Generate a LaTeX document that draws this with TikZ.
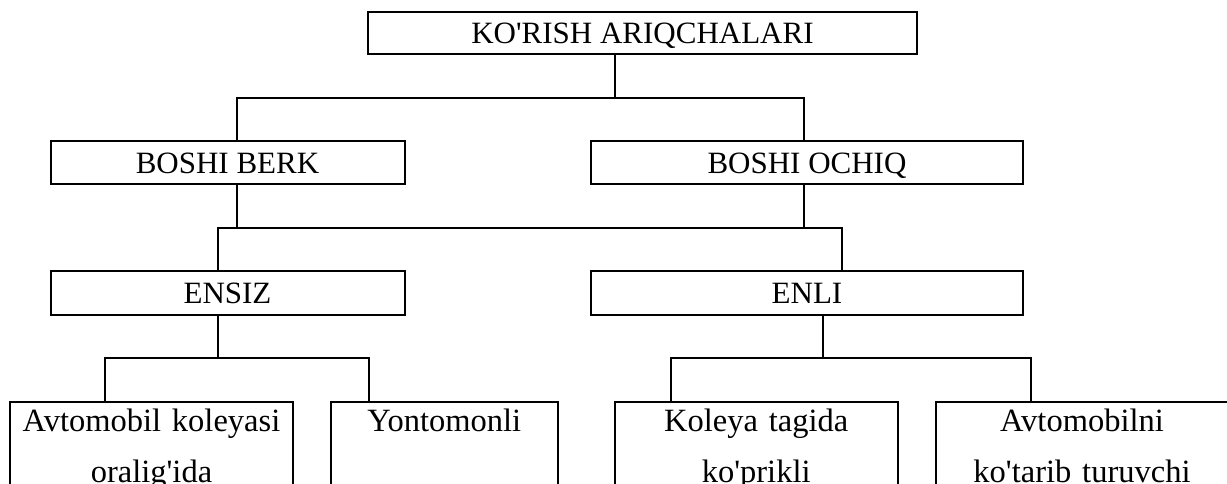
\documentclass[tikz,border=0pt]{standalone}
\usepackage{fontspec}
\setmainfont{Liberation Serif}[Ligatures=TeXOff]
\begin{document}
\begin{tikzpicture}[x=1pt,y=-1pt,
  every node/.style={font=\fontsize{31}{50}\selectfont},
  box/.style={draw,line width=2pt,inner sep=0pt,minimum height=43.5pt,text height=20.7pt,text depth=0pt},
  leaf/.style={draw,line width=2pt,inner sep=0pt,minimum height=130pt,anchor=north},
  leaftext/.style={anchor=base,align=center,inner sep=0pt,font=\fontsize{32.5}{50.5}\selectfont},
  conn/.style={line width=2pt}]
\useasboundingbox (0,0) rectangle (1227,484);
\clip (0,0) rectangle (1227,484);
% nodes
\node[box,minimum width=549pt,minimum height=42pt] (top) at (642.5,33) {KO'RISH ARIQCHALARI};
\node[box,minimum width=354pt] (bb) at (227.5,162.7) {BOSHI BERK};
\node[box,minimum width=432pt] (bo) at (807,162.7) {BOSHI OCHIQ};
\node[box,minimum width=354pt,minimum height=44pt] (en) at (227.5,293) {ENSIZ};
\node[box,minimum width=432pt,minimum height=44pt] (el) at (807,293) {ENLI};
\node[leaf,minimum width=283pt] (b1) at (151.5,401) {};
\node[leaf,minimum width=227.4pt] (b2) at (444.3,401) {};
\node[leaf,minimum width=283pt] (b3) at (756.2,401) {};
\node[leaf,minimum width=310pt] (b4) at (1090.6,401) {};
\node[leaftext,text width=280pt] (b1t) at ([yshift=-30.5pt]b1.north) {Avtomobil koleyasi\\oralig'ida};
\node[leaftext,text width=225pt] (b2t) at ([yshift=-30.5pt]b2.north) {Yontomonli};
\node[leaftext,text width=280pt] (b3t) at ([yshift=-30.5pt]b3.north) {Koleya tagida\\ko'prikli};
\node[leaftext,text width=290pt] (b4t) at (1082,431.5) {Avtomobilni\\ko'tarib turuvchi};
% junction coordinates
\coordinate (j1) at (615,98);
\coordinate (j1l) at (237,98);
\coordinate (j1r) at (804,98);
\coordinate (j2l) at (218,228);
\coordinate (j2r) at (842,228);
\coordinate (j3) at (218,358);
\coordinate (j3l) at (105,358);
\coordinate (j3r) at (369,358);
\coordinate (j4) at (822.6,358);
\coordinate (j4l) at (671,358);
\coordinate (j4r) at (1030.5,358);
% connectors
\draw[conn] (top.south -| j1) -- (j1);
\draw[conn] (bb.north -| j1l) -- (j1l) -- (j1r) -- (bo.north -| j1r);
\draw[conn] (bb.south -| j1l) -- (j1l |- j2l);
\draw[conn] (bo.south -| j1r) -- (j1r |- j2r);
\draw[conn] (en.north -| j2l) -- (j2l) -- (j2r) -- (el.north -| j2r);
\draw[conn] (en.south -| j3) -- (j3);
\draw[conn] (b1.north -| j3l) -- (j3l) -- (j3r) -- (b2.north -| j3r);
\draw[conn] (el.south -| j4) -- (j4);
\draw[conn] (b3.north -| j4l) -- (j4l) -- (j4r) -- (b4.north -| j4r);
\end{tikzpicture}
\end{document}
